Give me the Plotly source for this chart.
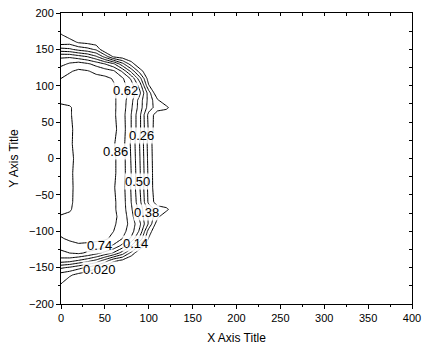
import plotly.graph_objects as go

x_vals = [0, 10, 20, 30, 40, 50, 60, 70, 80, 90, 100, 110, 120, 130]
y_vals = [-200, -190, -180, -170, -160, -150, -140, -130, -120, -110, -100, -90, -80, -70, -60, -40, -20,
          0, 20, 40, 60, 70, 80, 90, 100, 110, 120, 130, 140, 150, 160, 170, 180, 190, 200]

N = -0.30
z_vals = [
    [N, N, N, N, N, N, N, N, N, N, N, N, N, N],                                              # -200
    [N, N, N, N, N, N, N, N, N, N, N, N, N, N],                                              # -190
    [-0.05, -0.10, -0.20, N, N, N, N, N, N, N, N, N, N, N],                                  # -180
    [0.04, -0.05, -0.10, -0.20, N, N, N, N, N, N, N, N, N, N],                               # -170
    [0.08, 0.04, -0.02, -0.05, -0.10, -0.20, N, N, N, N, N, N, N, N],                        # -160
    [0.28, 0.24, 0.18, 0.12, 0.04, -0.05, -0.15, -0.20, N, N, N, N, N, N],                   # -150
    [0.58, 0.56, 0.50, 0.44, 0.36, 0.22, 0.06, 0.00, -0.10, -0.20, N, N, N, N],              # -140
    [0.70, 0.74, 0.76, 0.72, 0.66, 0.58, 0.48, 0.32, 0.10, -0.10, -0.20, N, N, N],           # -130
    [0.80, 0.82, 0.84, 0.83, 0.82, 0.79, 0.72, 0.58, 0.38, 0.12, -0.10, -0.20, N, N],        # -120
    [0.85, 0.88, 0.90, 0.90, 0.89, 0.88, 0.83, 0.74, 0.60, 0.34, 0.01, -0.20, N, N],         # -110
    [0.89, 0.90, 0.91, 0.93, 0.93, 0.91, 0.86, 0.78, 0.68, 0.47, 0.08, -0.10, -0.20, N],     # -100
    [0.89, 0.90, 0.91, 0.93, 0.93, 0.92, 0.88, 0.80, 0.70, 0.52, 0.24, -0.06, -0.20, N],     # -90
    [0.87, 0.88, 0.91, 0.93, 0.93, 0.92, 0.89, 0.81, 0.67, 0.46, 0.24, 0.05, -0.10, N],      # -80
    [0.83, 0.85, 0.90, 0.93, 0.93, 0.92, 0.88, 0.80, 0.64, 0.45, 0.22, 0.09, 0.06, -0.10],   # -70
    [0.82, 0.84, 0.90, 0.93, 0.93, 0.92, 0.88, 0.80, 0.62, 0.41, 0.11, -0.05, -0.10, N],     # -60
    [0.81, 0.83, 0.91, 0.93, 0.93, 0.92, 0.87, 0.79, 0.61, 0.38, 0.10, -0.08, -0.20, N],     # -40
    [0.80, 0.84, 0.90, 0.93, 0.93, 0.92, 0.88, 0.80, 0.62, 0.39, 0.11, -0.10, -0.20, N],     # -20
    [0.80, 0.83, 0.90, 0.93, 0.93, 0.92, 0.88, 0.80, 0.61, 0.38, 0.10, -0.10, -0.20, N],     # 0
    [0.81, 0.84, 0.91, 0.93, 0.94, 0.92, 0.87, 0.79, 0.60, 0.37, 0.09, -0.10, -0.20, N],     # 20
    [0.80, 0.84, 0.90, 0.93, 0.93, 0.92, 0.89, 0.80, 0.62, 0.40, 0.12, -0.08, -0.20, N],     # 40
    [0.82, 0.85, 0.90, 0.93, 0.93, 0.92, 0.88, 0.79, 0.62, 0.40, 0.10, -0.05, -0.10, N],     # 60
    [0.84, 0.85, 0.90, 0.93, 0.93, 0.92, 0.88, 0.80, 0.64, 0.44, 0.20, 0.08, 0.06, -0.10],   # 70
    [0.88, 0.89, 0.91, 0.93, 0.93, 0.92, 0.88, 0.80, 0.66, 0.44, 0.22, 0.04, -0.10, N],      # 80
    [0.89, 0.90, 0.91, 0.93, 0.93, 0.92, 0.88, 0.80, 0.70, 0.52, 0.20, -0.10, -0.20, N],     # 90
    [0.90, 0.91, 0.92, 0.93, 0.93, 0.92, 0.87, 0.78, 0.68, 0.45, 0.03, -0.10, -0.20, N],     # 100
    [0.86, 0.89, 0.91, 0.91, 0.90, 0.89, 0.85, 0.76, 0.60, 0.30, -0.05, -0.20, N, N],        # 110
    [0.82, 0.85, 0.88, 0.87, 0.83, 0.80, 0.76, 0.60, 0.35, 0.08, -0.10, -0.20, N, N],        # 120
    [0.70, 0.76, 0.80, 0.76, 0.70, 0.62, 0.52, 0.30, 0.08, -0.10, -0.20, N, N, N],           # 130
    [0.60, 0.60, 0.55, 0.50, 0.40, 0.22, 0.00, -0.05, -0.10, -0.20, N, N, N, N],             # 140
    [0.30, 0.28, 0.22, 0.18, 0.12, -0.10, -0.15, -0.20, N, N, N, N, N, N],                   # 150
    [0.06, 0.08, 0.00, -0.02, -0.05, -0.20, N, N, N, N, N, N, N, N],                         # 160
    [0.03, -0.05, -0.10, -0.20, N, N, N, N, N, N, N, N, N, N],                               # 170
    [-0.05, -0.10, -0.20, N, N, N, N, N, N, N, N, N, N, N],                                  # 180
    [N, N, N, N, N, N, N, N, N, N, N, N, N, N],                                              # 190
    [N, N, N, N, N, N, N, N, N, N, N, N, N, N],                                              # 200
]

level_start, level_end, level_step = 0.02, 0.86, 0.12

# contour labels as printed in the reference, with their positions (data units)
label_text = ["0.62", "0.26", "0.86", "0.50", "0.38", "0.74", "0.14", "0.020"]
label_x = [73, 92, 62, 87, 98, 44, 85, 44]
label_y = [94, 31, 9, -32, -74, -119, -117, -153]

FONT = "Liberation Sans, Arial, sans-serif"

fig = go.Figure()
fig.add_trace(go.Contour(
    x=x_vals, y=y_vals, z=z_vals,
    contours=dict(start=level_start, end=level_end, size=level_step,
                  coloring="none", showlabels=False),
    line=dict(color="black", width=1, smoothing=0),
    showscale=False, hoverinfo="skip",
))
fig.add_trace(go.Scatter(x=[], y=[], xaxis="x2", yaxis="y2", showlegend=False, hoverinfo="skip"))

for t, lx, ly in zip(label_text, label_x, label_y):
    fig.add_annotation(x=lx, y=ly, text=t, showarrow=False, xref="x", yref="y",
                       font=dict(family=FONT, size=13, color="black"),
                       bgcolor="rgba(255,255,255,0.85)", borderpad=0)

axis_common = dict(showgrid=False, zeroline=False, showline=True, linecolor="black", linewidth=1,
                   automargin=False, tickfont=dict(family=FONT, size=11, color="black"))

fig.update_layout(
    width=422, height=350,
    margin=dict(l=61, r=10, t=13, b=46, autoexpand=False),
    paper_bgcolor="white", plot_bgcolor="white",
    showlegend=False,
    xaxis=dict(range=[0, 400], tick0=0, dtick=50, ticks="outside", ticklen=4, tickcolor="black",
               minor=dict(dtick=25, ticks="outside", ticklen=2, tickcolor="black"),
               title=dict(text="X Axis Title", font=dict(family=FONT, size=12, color="black"), standoff=10),
               **axis_common),
    yaxis=dict(range=[-200, 200], tick0=-200, dtick=50, ticks="outside", ticklen=4, tickcolor="black",
               minor=dict(dtick=25, ticks="outside", ticklen=2, tickcolor="black"),
               title=dict(text="Y Axis Title", font=dict(family=FONT, size=12, color="black"), standoff=7),
               **axis_common),
    xaxis2=dict(range=[0, 400], overlaying="x", side="top", tick0=0, dtick=25, ticks="inside",
                ticklen=3, tickcolor="black", showticklabels=False, showgrid=False, zeroline=False,
                showline=True, linecolor="black", linewidth=1, automargin=False),
    yaxis2=dict(range=[-200, 200], overlaying="y", side="right", tick0=-200, dtick=25, ticks="inside",
                ticklen=3, tickcolor="black", showticklabels=False, showgrid=False, zeroline=False,
                showline=True, linecolor="black", linewidth=1, automargin=False),
)

fig.write_html("out.html")
